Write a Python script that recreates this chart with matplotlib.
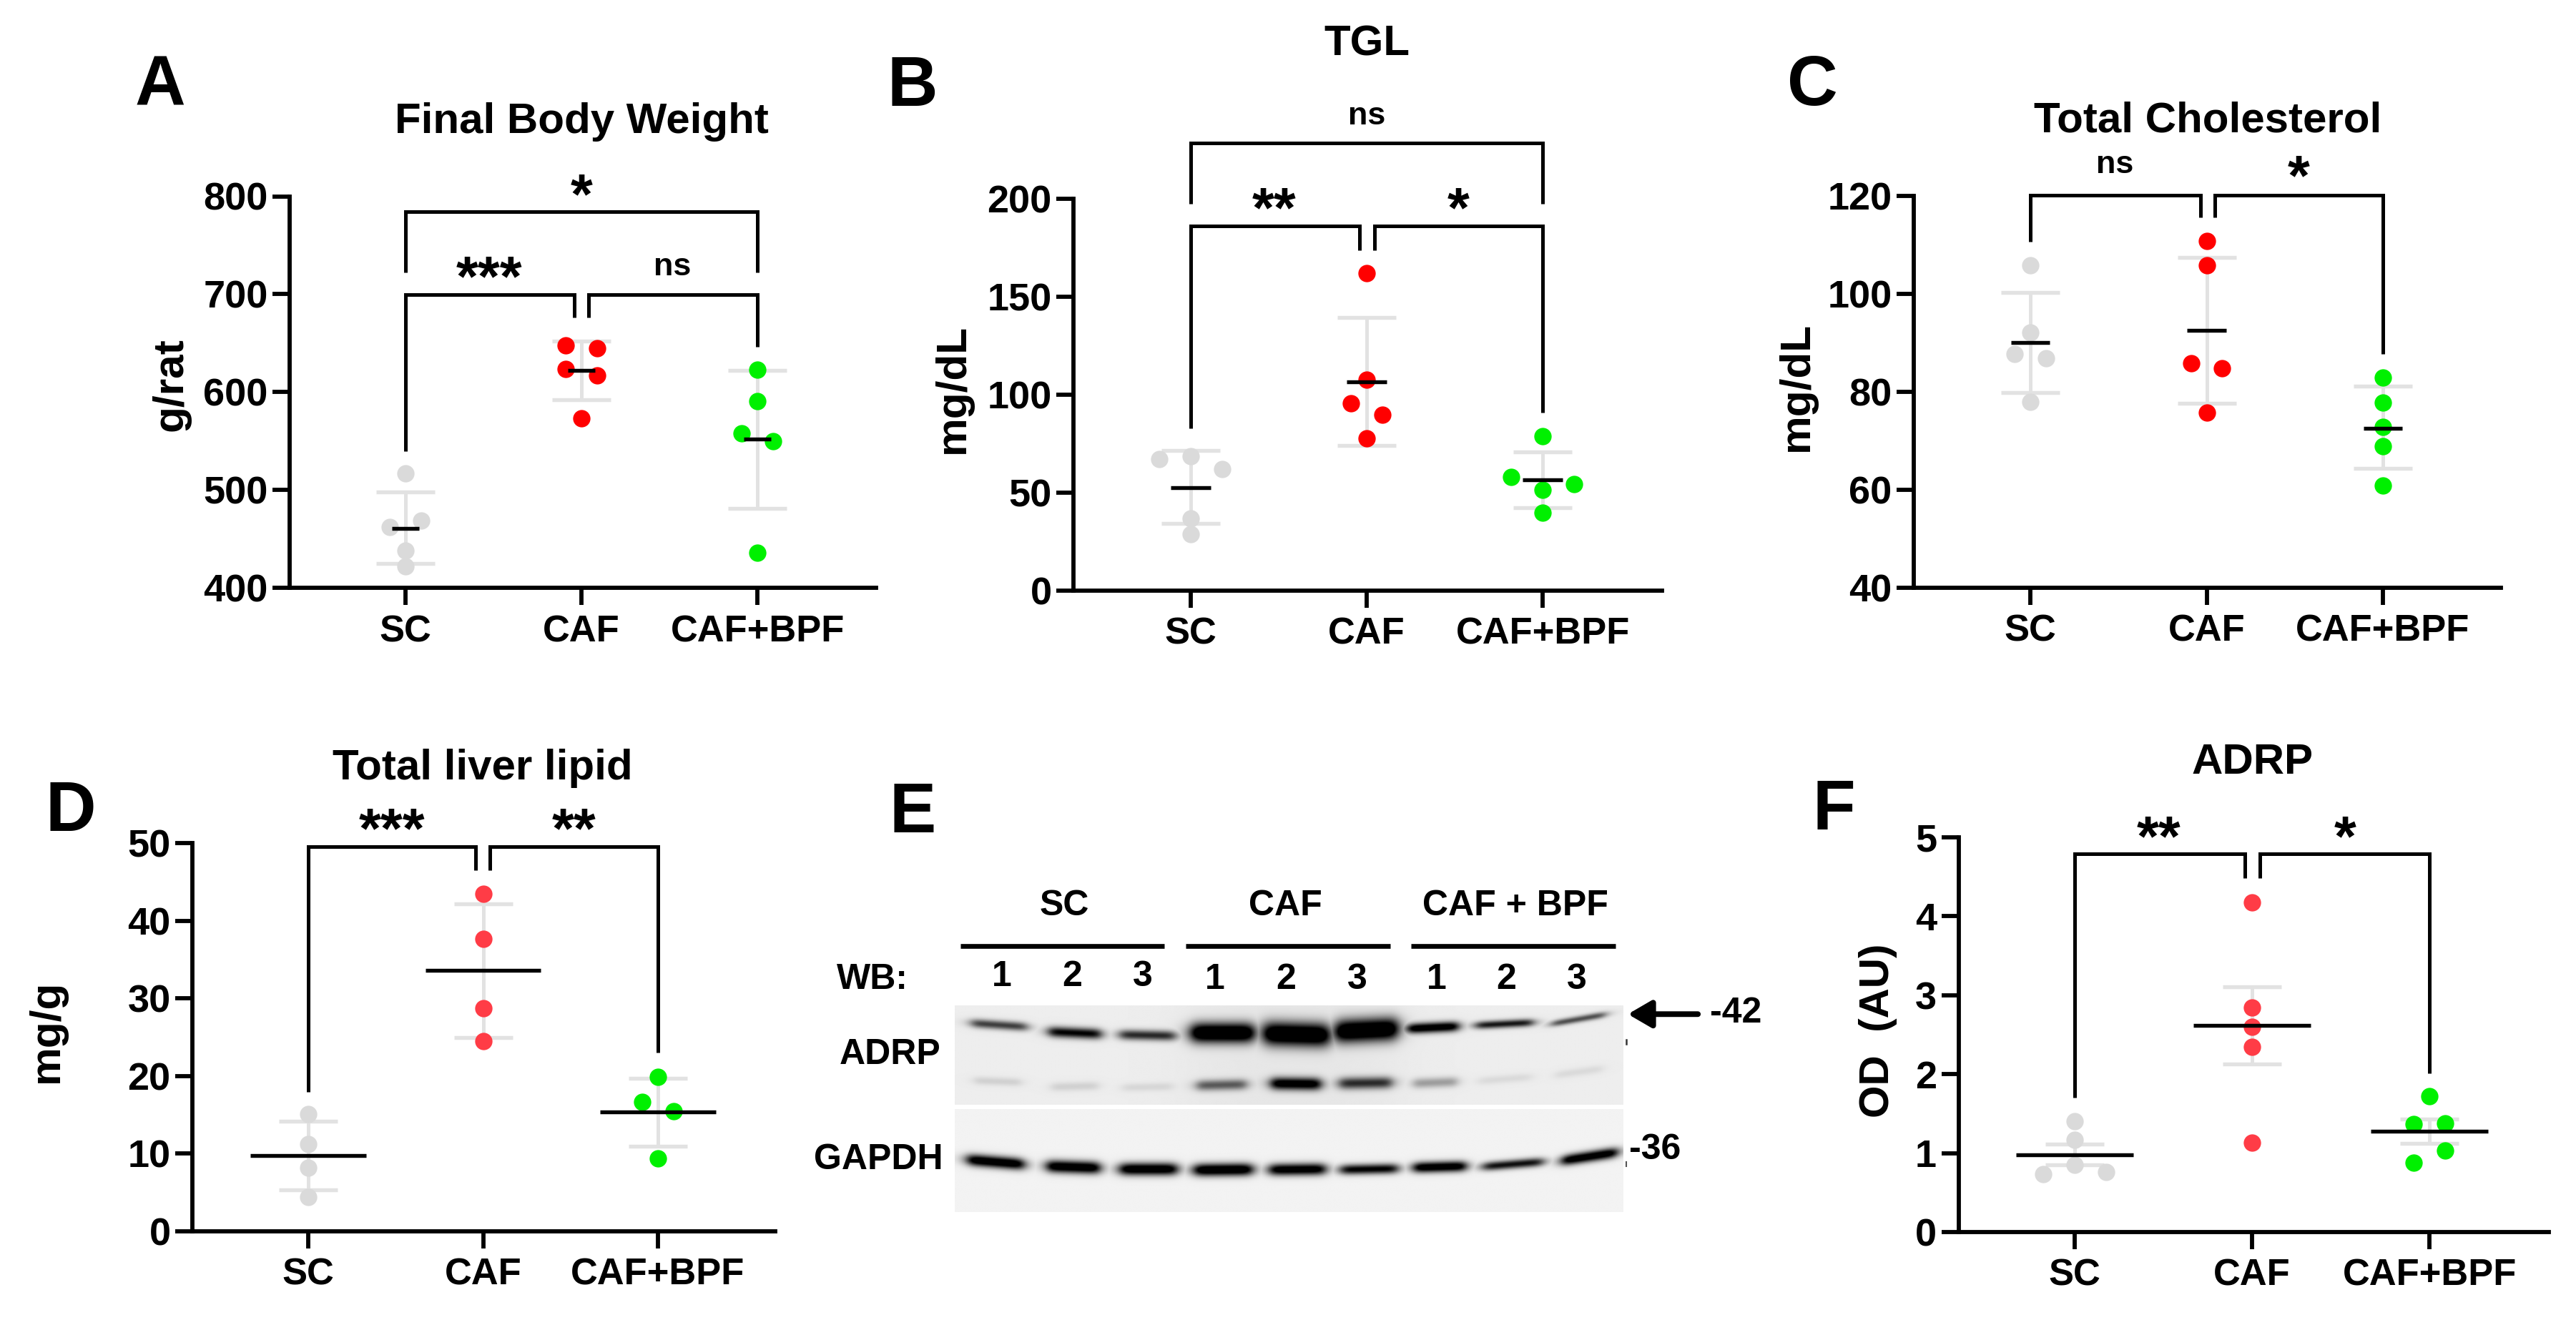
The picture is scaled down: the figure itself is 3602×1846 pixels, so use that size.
import numpy as np
import matplotlib
matplotlib.use('Agg')
import matplotlib.pyplot as plt

plt.rcParams['font.family'] = 'Liberation Sans'
plt.rcParams['font.weight'] = 'bold'

W, H = 3602, 1846
DPI = 300

GROUPS = ['SC', 'CAF', 'CAF+BPF']

# panel A
A_SC = [517, 469, 462, 438, 422]
A_CAF = [648, 645, 624, 617, 573]
A_BPF = [623, 591, 558, 550, 436]
A_MEAN = [461, 622, 552]
A_LOW = [425, 592, 481]
A_HIGH = [498, 652, 622]
A_DX = [[0, 0.09, -0.09, 0, 0], [-0.09, 0.09, -0.09, 0.09, 0], [0, 0, -0.09, 0.09, 0]]

# panel B
B_SC = [67, 68.7, 61.9, 36.7, 28.7]
B_CAF = [161.8, 107.6, 95.7, 89.7, 77.6]
B_BPF = [78.9, 57.9, 54.4, 51.5, 39.8]
B_MEAN = [52.4, 106.5, 56.6]
B_LOW = [34.3, 74, 42.4]
B_HIGH = [71.4, 139.2, 70.9]
B_DX = [[-0.178, 0, 0.178, 0, 0], [0, 0, -0.09, 0.09, 0], [0, -0.178, 0.178, 0, 0]]

# panel C
C_SC = [105.9, 92.1, 87.7, 86.8, 77.9]
C_CAF = [110.8, 105.8, 85.9, 84.8, 75.8]
C_BPF = [82.9, 77.8, 72.8, 68.9, 60.9]
C_MEAN = [90, 92.6, 72.6]
C_LOW = [79.9, 77.7, 64.4]
C_HIGH = [100.3, 107.5, 81.2]
C_DX = [[0, 0, -0.089, 0.089, 0], [0, 0, -0.089, 0.089, 0], [0, 0, 0, 0, 0]]

# panel D
D_SC = [15.1, 11.2, 8.2, 4.4]
D_CAF = [43.5, 37.7, 28.7, 24.5]
D_BPF = [19.9, 16.7, 15.5, 9.4]
D_MEAN = [9.8, 33.6, 15.4]
D_LOW = [5.3, 25, 11]
D_HIGH = [14.2, 42.2, 19.7]
D_DX = [[0, 0, 0, 0], [0, 0, 0, 0], [0, -0.089, 0.089, 0]]

# panel F
F_SC = [1.40, 1.17, 0.855, 0.76, 0.73]
F_CAF = [4.18, 2.84, 2.6, 2.35, 1.13]
F_BPF = [1.72, 1.38, 1.37, 1.03, 0.88]
F_MEAN = [0.98, 2.62, 1.28]
F_LOW = [0.855, 2.13, 1.12]
F_HIGH = [1.11, 3.11, 1.43]
F_DX = [[0, 0, 0, 0.176, -0.176], [0, 0, 0, 0, 0], [0, 0.09, -0.09, 0.09, -0.09]]

# blot bands: lane start, lane end, y at start, y at end, half thickness, darkness
ADRP_TOP = [
    (190, 285, 797, 810, 15, 0.55), (320, 410, 826, 834, 18, 0.75), (440, 535, 836, 840, 17, 0.62),
    (560, 668, 830, 830, 34, 1.0), (682, 795, 832, 838, 40, 1.0), (803, 910, 826, 816, 39, 1.0),
    (925, 1012, 816, 808, 17, 0.88), (1040, 1138, 805, 795, 13, 0.68), (1168, 1260, 800, 768, 11, 0.5),
]
ADRP_LOW = [
    (195, 275, 990, 996, 14, 0.09), (325, 405, 1012, 1008, 15, 0.09), (445, 530, 1014, 1010, 14, 0.07),
    (570, 655, 1007, 1003, 18, 0.45), (695, 780, 1000, 1002, 21, 0.85), (810, 900, 1000, 997, 20, 0.6),
    (935, 1010, 1000, 994, 17, 0.25), (1045, 1135, 992, 978, 14, 0.06), (1175, 1255, 972, 950, 14, 0.06),
]
GAPDH = [
    (183, 280, 1258, 1274, 20, 0.92), (317, 408, 1280, 1286, 21, 0.92), (440, 538, 1290, 1290, 21, 0.92),
    (565, 665, 1293, 1291, 21, 0.95), (692, 788, 1292, 1290, 20, 0.88), (812, 910, 1292, 1288, 17, 0.78),
    (935, 1025, 1285, 1280, 18, 0.9), (1052, 1155, 1282, 1265, 15, 0.72), (1185, 1280, 1262, 1233, 18, 0.9),
]
LANES = ['1', '2', '3', '1', '2', '3', '1', '2', '3']
LANE_X = [242, 361, 480, 602, 722, 841, 975, 1093, 1212]
LANE_Y = [640, 640, 640, 650, 650, 650, 650, 650, 650]

GRAY = '#dadada'
ERR = '#e2e2e2'
RED = '#ff0000'
SOFT_RED = '#ff3c46'
GREEN = '#00f000'

fig = plt.figure(figsize=(W / DPI, H / DPI), dpi=DPI, facecolor='white')


def px(x, y):
    return x / W, 1 - y / H


def label(x, y, s, size, rotation=0):
    fx, fy = px(x, y)
    fig.text(fx, fy, s, fontsize=size, rotation=rotation, ha='center', va='center')


def make_panel(box, ticks_x, ylim, yticks, groups, means, lows, highs, dx, mean_w, red=RED):
    left, right, top, bottom = box
    ax = fig.add_axes([left / W, 1 - bottom / H, (right - left) / W, (bottom - top) / H])
    unit = (ticks_x[1] - ticks_x[0])
    ax.set_xlim((left - ticks_x[0]) / unit, (right - ticks_x[0]) / unit)
    ax.set_ylim(*ylim)
    ax.set_xticks([0, 1, 2], GROUPS)
    ax.set_yticks(yticks)
    ax.tick_params(axis='x', length=5.8, width=1.4, pad=3, labelsize=12.6)
    ax.tick_params(axis='y', length=5.8, width=1.4, pad=1.5, labelsize=13)
    ax.spines['top'].set_visible(False)
    ax.spines['right'].set_visible(False)
    ax.spines['left'].set_linewidth(1.4)
    ax.spines['bottom'].set_linewidth(1.4)

    colors = [GRAY, red, GREEN]
    for i in range(3):
        ax.errorbar([i], [means[i]], yerr=[[means[i] - lows[i]], [highs[i] - means[i]]], color=ERR,
                    elinewidth=1.2, capsize=9.8, capthick=1.3, fmt='none', zorder=1)
        ax.scatter(np.array(dx[i]) + i, groups[i], s=34, color=colors[i], linewidths=0, zorder=2, clip_on=False)
        ax.hlines(means[i], i - mean_w, i + mean_w, color='black', linewidth=1.3, zorder=3)
    return ax


def bracket(ax, x0, x1, y, b0, b1):
    ax.plot([x0, x0, x1, x1], [b0, y, y, b1], color='black', linewidth=1.2, clip_on=False,
            solid_joinstyle='miter', solid_capstyle='butt', zorder=4)


def stars(ax, x, y, s):
    if s == 'ns':
        ax.text(x, y, s, fontsize=10.8, ha='center', va='center', clip_on=False)
    else:
        ax.annotate(s, (x, y), xytext=(0, -4), textcoords='offset points', fontsize=19, ha='center', va='center',
                    annotation_clip=False)


# panel A
ax = make_panel((405, 1225, 274.5, 822.4), [567, 813, 1059], (400, 800), [400, 500, 600, 700, 800],
                [A_SC, A_CAF, A_BPF], A_MEAN, A_LOW, A_HIGH, A_DX, 0.078)
bracket(ax, 0, 2, 784.5, 722.6, 722.6)
bracket(ax, 0, 0.96, 699.6, 540, 676)
bracket(ax, 1.042, 2, 699.6, 676, 646.5)
stars(ax, 1, 810, '*')
stars(ax, 0.476, 726, '***')
stars(ax, 1.518, 728, 'ns')

# panel B
ax = make_panel((1501, 2324, 277.6, 826), [1665, 1911, 2157], (0, 200), [0, 50, 100, 150, 200],
                [B_SC, B_CAF, B_BPF], B_MEAN, B_LOW, B_HIGH, B_DX, 0.113)
bracket(ax, 0, 2, 228.3, 197.3, 197.3)
bracket(ax, 0, 0.961, 185.9, 82.9, 173.7)
bracket(ax, 1.045, 2, 185.9, 173.7, 90.8)
stars(ax, 1, 242, 'ns')
stars(ax, 0.476, 199, '**')
stars(ax, 1.52, 199, '*')

# panel C
ax = make_panel((2676, 3497, 274, 822), [2839, 3085.5, 3332], (40, 120), [40, 60, 80, 100, 120],
                [C_SC, C_CAF, C_BPF], C_MEAN, C_LOW, C_HIGH, C_DX, 0.11)
bracket(ax, 0, 0.964, 120.2, 110.6, 115.6)
bracket(ax, 1.045, 2, 120.2, 115.6, 87.7)
stars(ax, 0.479, 126.4, 'ns')
stars(ax, 1.524, 125.7, '*')

# panel D
ax = make_panel((269, 1084, 1179, 1722), [431, 675.5, 920], (0, 50), [0, 10, 20, 30, 40, 50],
                [D_SC, D_CAF, D_BPF], D_MEAN, D_LOW, D_HIGH, D_DX, 0.33, red=SOFT_RED)
bracket(ax, 0, 0.958, 49.5, 18, 46.5)
bracket(ax, 1.04, 2, 49.5, 46.5, 23)
stars(ax, 0.479, 52.8, '***')
stars(ax, 1.52, 52.8, '**')

# panel F
ax = make_panel((2738.5, 3564, 1171, 1723), [2901, 3149, 3396.5], (0, 5), [0, 1, 2, 3, 4, 5],
                [F_SC, F_CAF, F_BPF], F_MEAN, F_LOW, F_HIGH, F_DX, 0.33, red=SOFT_RED)
bracket(ax, 0, 0.96, 4.79, 1.70, 4.48)
bracket(ax, 1.045, 2, 4.79, 4.48, 2.01)
stars(ax, 0.476, 5.11, '**')
stars(ax, 1.524, 5.11, '*')

# titles, y labels, panel letters
label(813, 171, 'Final Body Weight', 14.4)
label(1911, 62, 'TGL', 14.4)
label(3087, 169, 'Total Cholesterol', 14.4)
label(675, 1074, 'Total liver lipid', 14.4)
label(3149, 1067, 'ADRP', 14.4)
label(239, 538, 'g/rat', 14.5, rotation=90)
label(1332, 543, 'mg/dL', 14.5, rotation=90)
label(2512, 540, 'mg/dL', 14.5, rotation=90)
label(65, 1442, 'mg/g', 14.5, rotation=90)
label(2626, 1441, 'OD  (AU)', 14, rotation=90)
label(224, 121, 'A', 23.5)
label(1276, 123, 'B', 23.5)
label(2534, 121, 'C', 23.5)
label(99, 1136, 'D', 23.5)
label(1276, 1139, 'E', 23.5)
label(2564, 1135, 'F', 23.5)


# panel E, the blot is built from the band lists above (zoom coordinates of the source)
def zx(x):
    return 1200 + x / 1.206


def zy(y):
    return 1100 + y / 2.41


def blot(bands, x0, x1, y0, y1, bg, lane_shade=0.0):
    xs = np.arange(x0, x1)
    ys = np.arange(y0, y1)
    gx, gy = np.meshgrid(xs, ys)
    dark = np.zeros_like(gx, dtype=float)
    for a, b, ya, yb, t, d in bands:
        mid = (a + b) / 2
        half = (b - a) / 2
        yc = ya + (gx - a) / (b - a) * (yb - ya)
        fade = 1 / (1 + ((gx - mid) / half) ** 8)
        dark = np.maximum(dark, d * fade * np.exp(-((gy - yc) / t) ** 2))
    # darker smear round the CAF lanes
    smear = lane_shade * np.exp(-((gx - 730) / 190) ** 4)
    img = np.clip(bg - smear - dark * 1.25, 0, 1)
    bx = [zx(x0), zx(x1)]
    by = [zy(y0), zy(y1)]
    ax = fig.add_axes([bx[0] / W, 1 - by[1] / H, (bx[1] - bx[0]) / W, (by[1] - by[0]) / H])
    ax.imshow(img, cmap='gray', vmin=0, vmax=1, aspect='auto', interpolation='bilinear')
    ax.axis('off')


blot(ADRP_TOP + ADRP_LOW, 163, 1290, 738, 1072, 0.93, lane_shade=0.025)
blot(GAPDH, 163, 1290, 1088, 1435, 0.95)

overlay = fig.add_axes([0, 0, 1, 1], facecolor='none')
overlay.set_xlim(0, W)
overlay.set_ylim(H, 0)
overlay.axis('off')
for a, b in [(172, 516), (552, 897), (932, 1277)]:
    overlay.plot([zx(a), zx(b)], [zy(538), zy(538)], color='black', linewidth=1.6, solid_capstyle='butt')
overlay.annotate('', xy=(zx(1298), zy(767)), xytext=(zx(1416), zy(767)),
                 arrowprops=dict(arrowstyle='-|>,head_length=0.55,head_width=0.32', color='black', linewidth=1.9,
                                 shrinkA=0, shrinkB=0, mutation_scale=12))
overlay.plot([zx(1295), zx(1295)], [zy(853), zy(868)], color='#333333', linewidth=0.6)
overlay.plot([zx(1295), zx(1295)], [zy(1265), zy(1280)], color='#555555', linewidth=0.5)

label(1488, 1267, 'SC', 12)
label(1797, 1267, 'CAF', 12)
label(2119, 1267, 'CAF + BPF', 12)
label(1220, 1370, 'WB:', 12)
for s, x, y in zip(LANES, LANE_X, LANE_Y):
    label(zx(x), zy(y), s, 12)
label(1245, 1475, 'ADRP', 12)
label(1228, 1622, 'GAPDH', 12)
label(2427, 1417, '-42', 12)
label(2314, 1608, '-36', 12)

fig.savefig('out.png', dpi=DPI, facecolor='white')
